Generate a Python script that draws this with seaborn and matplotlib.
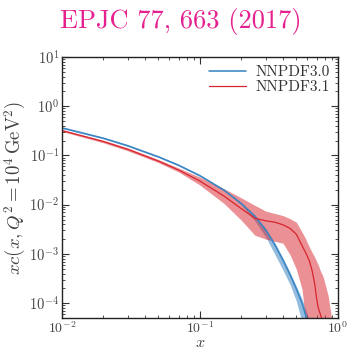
import matplotlib
matplotlib.use("Agg")
import matplotlib.pyplot as plt
import seaborn as sns
import pandas as pd
import numpy as np

# ---- data ----
x30 = [0.01, 0.02, 0.03, 0.05, 0.07, 0.1, 0.15, 0.2, 0.25, 0.3, 0.35, 0.4,
       0.45, 0.5, 0.55, 0.6, 0.63]
c30 = [0.363, 0.2234, 0.1574, 0.0937, 0.0633, 0.0388, 0.0196, 0.01047,
       0.00585, 0.00305, 0.00152, 0.00075, 0.00038, 0.000195, 0.0001,
       4.4e-5, 2.5e-5]
lo30 = [0.351, 0.216, 0.152, 0.0905, 0.0611, 0.0374, 0.0188, 0.0098,
        0.0047, 0.0022, 0.00097, 0.00047, 0.00024, 0.00011, 4e-5, 1.2e-5,
        4e-6]
hi30 = [0.375, 0.231, 0.163, 0.097, 0.0655, 0.0402, 0.0204, 0.0109,
        0.0062, 0.0033, 0.00165, 0.00082, 0.00042, 0.00022, 0.00012,
        6e-5, 4e-5]

x31 = [0.01, 0.02, 0.03, 0.05, 0.07, 0.1, 0.15, 0.2, 0.25, 0.3, 0.35, 0.4,
       0.45, 0.5, 0.55, 0.58, 0.6, 0.62, 0.65, 0.68, 0.7, 0.72, 0.75, 0.78,
       0.8, 0.85, 0.9, 0.93]
c31 = [0.320, 0.1914, 0.133, 0.0769, 0.0506, 0.0301, 0.01486, 0.00826,
       0.0053, 0.0047, 0.0044, 0.0039, 0.0033, 0.0025, 0.00147, 0.0011,
       0.0009, 0.00073, 0.00046, 0.00024, 0.000127, 8.1e-5, 5.7e-5, 4e-5,
       2.5e-5, 1e-5, 5e-6, 3e-6]
lo31 = [0.306, 0.180, 0.124, 0.0715, 0.0462, 0.0250, 0.0105, 0.0048,
        0.0024, 0.002, 0.0018, 0.00165, 0.00096, 0.00049, 0.00019, 5e-5,
        1.5e-5, 5e-6, 1e-6, 1e-6, 1e-6, 1e-6, 1e-6, 1e-6, 1e-6, 1e-6, 1e-6,
        1e-6]
hi31 = [0.335, 0.203, 0.142, 0.0825, 0.0555, 0.0362, 0.021, 0.0137,
        0.0097, 0.0074, 0.0066, 0.006, 0.0052, 0.0044, 0.00275, 0.0021,
        0.00169, 0.0014, 0.00107, 0.00085, 0.00071, 0.0006, 0.00044,
        0.00035, 0.00027, 0.000142, 5e-5, 3e-5]

labels = ["NNPDF3.0", "NNPDF3.1"]
title = "EPJC 77, 663 (2017)"

blue = "#3a86c4"
red = "#d8242c"

sns.set_style("ticks")
plt.rcParams["font.family"] = ["cmr10", "DejaVu Serif"]
plt.rcParams["mathtext.fontset"] = "cm"
plt.rcParams["axes.formatter.use_mathtext"] = True
plt.rcParams["axes.unicode_minus"] = False

fig = plt.figure(figsize=(3.48, 3.5), dpi=100)
ax = fig.add_axes([0.178, 0.0914, 0.793, 0.746])

df30 = pd.DataFrame({"x": x30, "y": c30})
df31 = pd.DataFrame({"x": x31, "y": c31})

ax.fill_between(x30, lo30, hi30, color=blue, alpha=0.55, lw=0)
ax.fill_between(x31, lo31, hi31, color=red, alpha=0.5, lw=0)
sns.lineplot(data=df30, x="x", y="y", ax=ax, color=blue, lw=1.15, label=labels[0])
sns.lineplot(data=df31, x="x", y="y", ax=ax, color=red, lw=0.9, label=labels[1])

ax.set_xscale("log")
ax.set_yscale("log")
ax.set_xlim(0.01, 1)
ax.set_ylim(5e-5, 10)

ax.tick_params(which="both", direction="in", top=True, right=True,
               labelsize=10.5, colors="#333333", labelcolor="#444444", pad=2)
ax.tick_params(axis="x", which="major", pad=1.5, labelsize=10)
ax.tick_params(which="major", length=5, width=0.8)
ax.tick_params(which="minor", length=2.5, width=0.6)
ax.yaxis.set_major_locator(matplotlib.ticker.LogLocator(base=10, numticks=20))
ax.yaxis.set_minor_locator(matplotlib.ticker.LogLocator(base=10, subs=np.arange(2, 10), numticks=20))
ax.yaxis.set_minor_formatter(matplotlib.ticker.NullFormatter())
for s in ax.spines.values():
    s.set_linewidth(1.0)
    s.set_color("#222222")

ax.set_xlabel(r"$x$", fontsize=11.5, color="#444444")
ax.xaxis.set_label_coords(0.5, -0.071)
ax.set_ylabel(r"$xc(x,Q^2=10^4\,\mathrm{GeV}^2)$", fontsize=13.5, color="#444444", labelpad=1)

leg = ax.legend(loc="upper right", frameon=False, fontsize=11,
                handlelength=2.4, handletextpad=0.6, borderaxespad=0.15,
                labelspacing=0.1)
for t in leg.get_texts():
    t.set_color("#333333")

fig.text(0.52, 0.978, title, ha="center", va="top", fontsize=19, color="#e6218f")

fig.savefig("out.png", dpi=100)
